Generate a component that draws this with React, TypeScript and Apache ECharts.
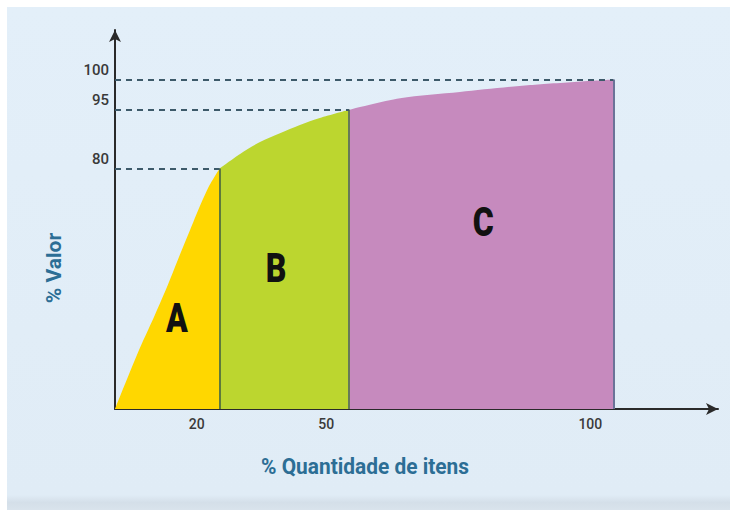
import React, { useEffect, useRef } from "react";
import * as echarts from "echarts";

// Curve points (x: % of items, y: height on the value axis)
const curveA: number[][] = [
  [0, 0], [4.4, 16.4], [8, 28.5], [10.6, 37.6], [13, 46.7], [15.7, 56.7], [18.7, 67.1], [21, 73],
];
const curveB: number[][] = [
  [21, 73], [25.1, 77.4], [29.1, 81], [33.1, 83.7], [37.1, 86.2], [41.1, 88.3], [47, 90.8],
];
const curveC: number[][] = [
  [47, 90.8], [57.2, 94.3], [69.2, 96.2], [83.3, 98.3], [100, 100],
];

const classNames = ["A", "B", "C"];
const classLabelAt: number[][] = [[12.4, 27.6], [32.3, 42.8], [73.9, 56.7]];

const xTickAt = [21, 47, 100];
const xTickText = ["20", "50", "100"];
const yTickAt = [73, 90.8, 100];
const yTickText = ["80", "95", "100"];

const xTitle = "% Quantidade de itens";
const yTitle = "% Valor";

const FONT = 'Roboto, "Liberation Sans", sans-serif';

const colors = ["#FFD700", "#BCD62F", "#C68ABE"];
const edgeColors = ["#5E7A3C", "#667A58", "#6B7398"];

function lookup(at: number[], text: string[], v: number) {
  for (let i = 0; i < at.length; i++) if (Math.abs(at[i] - v) < 0.01) return text[i];
  return "";
}

export default function App() {
  const ref = useRef<HTMLDivElement>(null);
  useEffect(() => {
    if (!ref.current) return;
    const chart = echarts.init(ref.current, undefined, { renderer: "svg" });
    const curves = [curveA, curveB, curveC];
    const dashStyle = { color: "#3D5A6A", width: 2.2, type: [6, 5] as any };
    const series: any[] = curves.map((c, i) => {
      const end = c[c.length - 1];
      return {
        type: "line",
        data: c,
        smooth: 0.3,
        symbol: "none",
        lineStyle: { width: 0, color: colors[i] },
        areaStyle: { color: colors[i], opacity: 1 },
        z: 2,
        silent: true,
        markLine: {
          silent: true,
          symbol: "none",
          label: { show: false },
          animation: false,
          data: [
            [
              { coord: [end[0], 0], lineStyle: { color: edgeColors[i], width: 2, type: "solid" } },
              { coord: [end[0], end[1]] },
            ],
            [
              { coord: [0, end[1]], lineStyle: dashStyle },
              { coord: [end[0], end[1]] },
            ],
          ],
        },
      };
    });

    const baseGraphic: any[] = [
      {
        type: "rect",
        z: -10,
        shape: { x: 7, y: 7, width: 723, height: 503 },
        style: {
          fill: new echarts.graphic.LinearGradient(0, 0, 0, 1, [
            { offset: 0, color: "#E3EFF9" },
            { offset: 0.97, color: "#E0ECF6" },
            { offset: 0.985, color: "#D4DFE9" },
            { offset: 1, color: "#D9E3EC" },
          ]),
        },
        silent: true,
      },
      {
        type: "text",
        x: 365,
        y: 466,
        scaleX: 0.95,
        style: {
          text: xTitle,
          fill: "#2C6E95",
          font: `bold 22px ${FONT}`,
          align: "center",
          verticalAlign: "middle",
        },
        silent: true,
      },
      {
        type: "text",
        x: 54,
        y: 268,
        rotation: Math.PI / 2,
        scaleX: 1.0,
        style: {
          text: yTitle,
          fill: "#2C6E95",
          font: `bold 21px ${FONT}`,
          align: "center",
          verticalAlign: "middle",
        },
        silent: true,
      },
    ];

    chart.setOption({
      animation: false,
      backgroundColor: "transparent",
      grid: { left: 115, right: 16, top: 30, bottom: 101, containLabel: false },
      xAxis: {
        type: "value",
        min: 0,
        max: 121,
        axisLine: {
          show: true,
          symbol: ["none", "arrow"],
          symbolSize: [9, 12],
          lineStyle: { color: "#2A2A2A", width: 2 },
        },
        axisTick: { show: false },
        splitLine: { show: false },
        axisLabel: {
          customValues: xTickAt,
          formatter: (v: number) => lookup(xTickAt, xTickText, v),
          color: "#3A3A3A",
          fontSize: 14,
          fontWeight: 500,
          fontFamily: FONT,
          margin: 8,
          padding: [0, 46, 0, 0],
        },
      },
      yAxis: {
        type: "value",
        min: 0,
        max: 115,
        axisLine: {
          show: true,
          symbol: ["none", "arrow"],
          symbolSize: [9, 12],
          lineStyle: { color: "#2A2A2A", width: 2 },
        },
        axisTick: { show: false },
        splitLine: { show: false },
        axisLabel: {
          customValues: yTickAt,
          formatter: (v: number) => lookup(yTickAt, yTickText, v),
          color: "#3A3A3A",
          fontSize: 15,
          fontWeight: 500,
          fontFamily: FONT,
          margin: 6,
          verticalAlign: "bottom",
          padding: [0, 0, 2, 0],
        },
      },
      graphic: baseGraphic,
      series,
    });

    const letters = classNames.map((name, i) => {
      const p = chart.convertToPixel({ gridIndex: 0 }, classLabelAt[i]) as number[];
      return {
        type: "text",
        x: p[0],
        y: p[1],
        scaleX: 0.8,
        z: 20,
        style: {
          text: name,
          fill: "#111",
          font: `900 40px ${FONT}`,
          align: "center",
          verticalAlign: "middle",
        },
        silent: true,
      };
    });
    chart.setOption({ graphic: [...baseGraphic, ...letters] }, { replaceMerge: ["graphic"] });

    return () => chart.dispose();
  }, []);
  return (
    <div
      style={{ position: "absolute", left: 0, top: 0, width: 734, height: 510, background: "#fff" }}
    >
      <div ref={ref} style={{ width: 734, height: 510 }} />
    </div>
  );
}
